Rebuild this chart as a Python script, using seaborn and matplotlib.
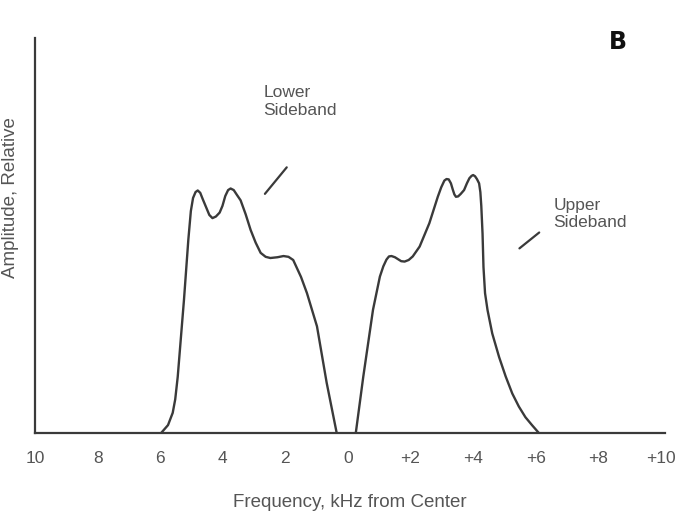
import pandas as pd
import seaborn as sns
from matplotlib import pyplot as plt

# values (kHz from center, relative amplitude 0-100)
lower_khz = [-5.97, -5.75, -5.60, -5.52, -5.44, -5.24, -5.10, -5.02, -4.95, -4.87,
             -4.80, -4.72, -4.64, -4.54, -4.43, -4.33, -4.22, -4.10, -4.01, -3.92,
             -3.83, -3.75, -3.65, -3.55, -3.43, -3.27, -3.11, -2.95, -2.79, -2.63,
             -2.48, -2.25, -2.06, -1.90, -1.75, -1.50, -1.31, -0.99, -0.68, -0.36]
lower_amp = [0.0, 2.0, 5.1, 8.5, 14.2, 33.7, 49.0, 56.2, 59.5, 61.0,
             61.4, 60.8, 59.2, 57.3, 55.2, 54.4, 54.8, 55.8, 57.5, 60.0,
             61.5, 61.9, 61.5, 60.3, 58.9, 55.4, 51.4, 48.2, 45.6, 44.6,
             44.3, 44.5, 44.8, 44.6, 43.8, 39.5, 35.4, 27.0, 12.7, 0.0]

upper_khz = [0.25, 0.49, 0.80, 1.02, 1.13, 1.23, 1.31, 1.39, 1.50, 1.60,
             1.70, 1.81, 1.94, 2.07, 2.29, 2.60, 2.87, 2.98, 3.08, 3.15,
             3.22, 3.29, 3.35, 3.40, 3.45, 3.52, 3.60, 3.71, 3.80, 3.88,
             3.95, 4.00, 4.06, 4.12, 4.19, 4.23, 4.26, 4.30, 4.33, 4.38,
             4.46, 4.61, 4.83, 5.04, 5.25, 5.46, 5.67, 5.88, 6.10]
upper_amp = [0.0, 14.3, 31.2, 39.6, 42.2, 43.9, 44.7, 44.8, 44.5, 44.0,
             43.5, 43.4, 43.8, 44.7, 47.2, 53.1, 59.8, 62.2, 63.9, 64.3,
             64.2, 63.2, 61.6, 60.4, 59.8, 59.9, 60.5, 61.5, 63.2, 64.5,
             65.1, 65.3, 65.0, 64.3, 63.2, 61.0, 57.5, 50.5, 42.0, 35.4,
             31.1, 25.2, 19.2, 14.3, 10.0, 6.7, 4.0, 2.0, 0.0]

tick_pos = [-10, -8, -6, -4, -2, 0, 2, 4, 6, 8, 10]
tick_labels = ["10", "8", "6", "4", "2", "0", "+2", "+4", "+6", "+8", "+10"]

df = pd.concat([
    pd.DataFrame({"khz": lower_khz, "amp": lower_amp, "band": "Lower"}),
    pd.DataFrame({"khz": upper_khz, "amp": upper_amp, "band": "Upper"}),
])

sns.set_style("white")
plt.rcParams["font.family"] = ["Liberation Sans", "DejaVu Sans"]

ink = "#3a3a3a"
text_col = "#555555"

fig = plt.figure(figsize=(6.76, 5.11), dpi=100)
ax = fig.add_axes([35 / 676, 78 / 511, 630 / 676, 395 / 511])

sns.lineplot(data=df, x="khz", y="amp", hue="band", palette=[ink, ink],
             linewidth=1.7, legend=False, ax=ax,
             solid_joinstyle="round", solid_capstyle="round")

ax.set_xlim(-10, 10.13)
ax.set_ylim(0, 100)
ax.set_xticks(tick_pos)
ax.set_xticklabels(tick_labels, fontsize=12.5, color=text_col)
ax.set_yticks([])
ax.tick_params(axis="x", direction="out", length=5, width=1.5, color=ink, pad=8)

sns.despine(ax=ax)
for side in ("left", "bottom"):
    ax.spines[side].set_linewidth(1.6)
    ax.spines[side].set_color(ink)

ax.set_xlabel("Frequency, kHz from Center", fontsize=13.5, color=text_col, labelpad=20)
ax.set_ylabel("Amplitude, Relative", fontsize=13.5, color=text_col)
ax.yaxis.set_label_coords(-0.025, 0.597)

# callouts
ax.text(-2.71, 88.0, "Lower\nSideband", fontsize=12.5, color=text_col,
        ha="left", va="top", linespacing=1.2)
ax.annotate("", xy=(-2.71, 60.0), xytext=(-1.90, 67.8),
            arrowprops=dict(arrowstyle="-", color=ink, linewidth=1.6))

ax.text(6.57, 59.5, "Upper\nSideband", fontsize=12.5, color=text_col,
        ha="left", va="top", linespacing=1.2)
ax.annotate("", xy=(5.41, 46.3), xytext=(6.18, 51.2),
            arrowprops=dict(arrowstyle="-", color=ink, linewidth=1.6))

ax.text(8.64, 99.0, "B", fontsize=17, fontweight="heavy", color="#111111",
        ha="center", va="center", family=["DejaVu Sans"])

fig.savefig("out.png", dpi=100)
